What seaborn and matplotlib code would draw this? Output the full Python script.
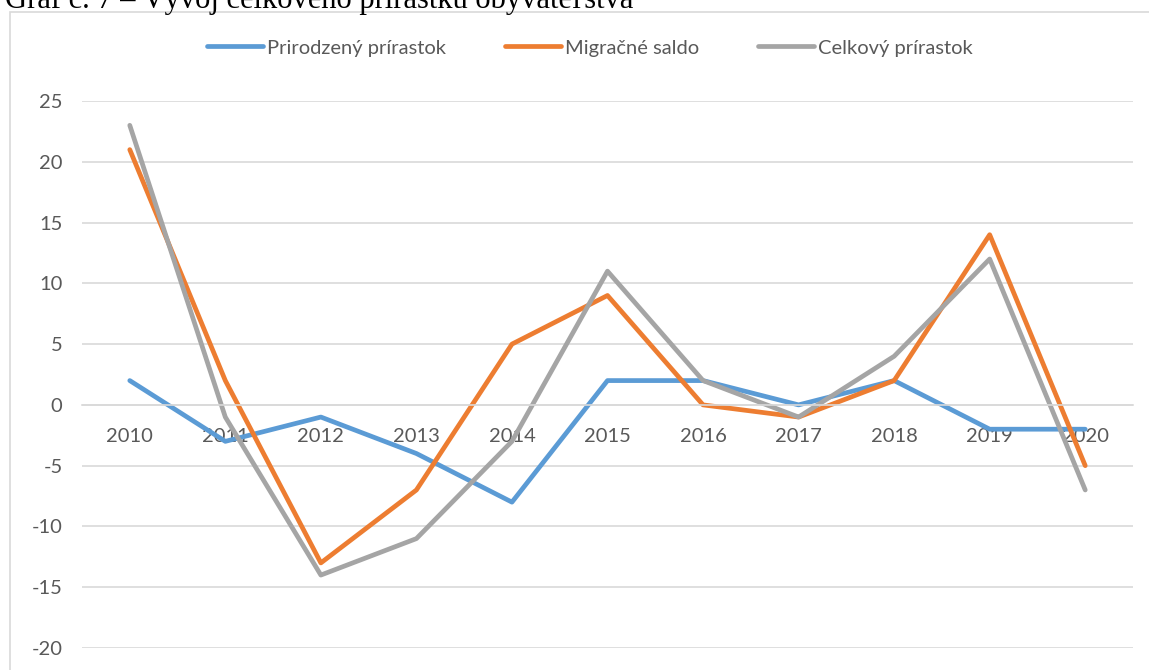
import numpy as np
import pandas as pd
import matplotlib
matplotlib.use("Agg")
import matplotlib.pyplot as plt
import matplotlib.patches as mpatches
import seaborn as sns

# data
years = [2010, 2011, 2012, 2013, 2014, 2015, 2016, 2017, 2018, 2019, 2020]
prirodzeny = [2, -3, -1, -4, -8, 2, 2, 0, 2, -2, -2]
migracne = [21, 2, -13, -7, 5, 9, 0, -1, 2, 14, -5]
celkovy = [23, -1, -14, -11, -3, 11, 2, -1, 4, 12, -7]
series_names = ["Prirodzený prírastok", "Migračné saldo", "Celkový prírastok"]
colors = ["#5B9BD5", "#ED7D31", "#A5A5A5"]
y_ticks = list(range(-20, 30, 5))
title = "Graf č. 7 – Vývoj celkového prírastku obyvateľstva"

df = pd.DataFrame({
    "rok": years * 3,
    "hodnota": prirodzeny + migracne + celkovy,
    "serie": sum([[n] * len(years) for n in series_names], []),
})

sns.set_style("white")
plt.rcParams["font.family"] = ["Lato", "DejaVu Sans"]
plt.rcParams["axes.unicode_minus"] = False

fig = plt.figure(figsize=(11.49, 6.70), dpi=100)
W, H = 1149, 670
ax = fig.add_axes([82 / W, (H - 648) / H, (1133 - 82) / W, (648 - 101) / H])

sns.lineplot(data=df, x="rok", y="hodnota", hue="serie", hue_order=series_names,
             palette=colors, linewidth=3.4, ax=ax, legend=True)

ax.set_xlim(years[0] - 0.5, years[-1] + 0.5)
ax.set_ylim(y_ticks[0], y_ticks[-1])
ax.set_xlabel("")
ax.set_ylabel("")

# horizontal gridlines
ax.set_yticks(y_ticks)
ax.yaxis.grid(True, color="#d9d9d9", linewidth=1.2)
ax.xaxis.grid(False)
ax.set_axisbelow(True)
ax.tick_params(axis="y", length=0, pad=14, labelsize=14.5, labelcolor="#595959")

# category axis crossing at zero
for s in ["top", "right", "left"]:
    ax.spines[s].set_visible(False)
ax.spines["bottom"].set_position(("data", 0))
ax.spines["bottom"].set_color("#d9d9d9")
ax.spines["bottom"].set_linewidth(1.2)
ax.set_xticks(np.arange(years[0] - 0.5, years[-1] + 1, 1.0))
ax.set_xticklabels([])
ax.set_xticks(years, minor=True)
ax.set_xticklabels([str(y) for y in years], minor=True)
ax.tick_params(axis="x", which="major", direction="out", length=5, width=1.2,
               color="#d9d9d9")
ax.tick_params(axis="x", which="minor", length=0, pad=17, labelsize=14.5,
               labelcolor="#595959")

# legend at top
handles, labels = ax.get_legend_handles_labels()
ax.get_legend().remove()
for h in handles:
    h.set_linewidth(3.4)
fig.legend(handles, labels, loc="center", bbox_to_anchor=(590 / W, 1 - 48 / H),
           ncol=3, frameon=False, fontsize=14.5, handlelength=2.8,
           handletextpad=0.2, columnspacing=2.9, labelcolor="#595959")

# chart frame (cut by page edge)
frame = mpatches.Rectangle((10 / W, -0.05), 1.2, 1 - 12 / H + 0.05,
                           transform=fig.transFigure, fill=False,
                           edgecolor="#d9d9d9", linewidth=1.2, clip_on=False)
fig.patches.append(frame)

# document caption, partly cut off at the top as in the source page
fig.text(5 / W, 1 - 8 / H, title, ha="left", va="baseline",
         fontsize=22, family=["Liberation Serif", "DejaVu Serif"], color="black")

fig.savefig("out.png", dpi=100)
